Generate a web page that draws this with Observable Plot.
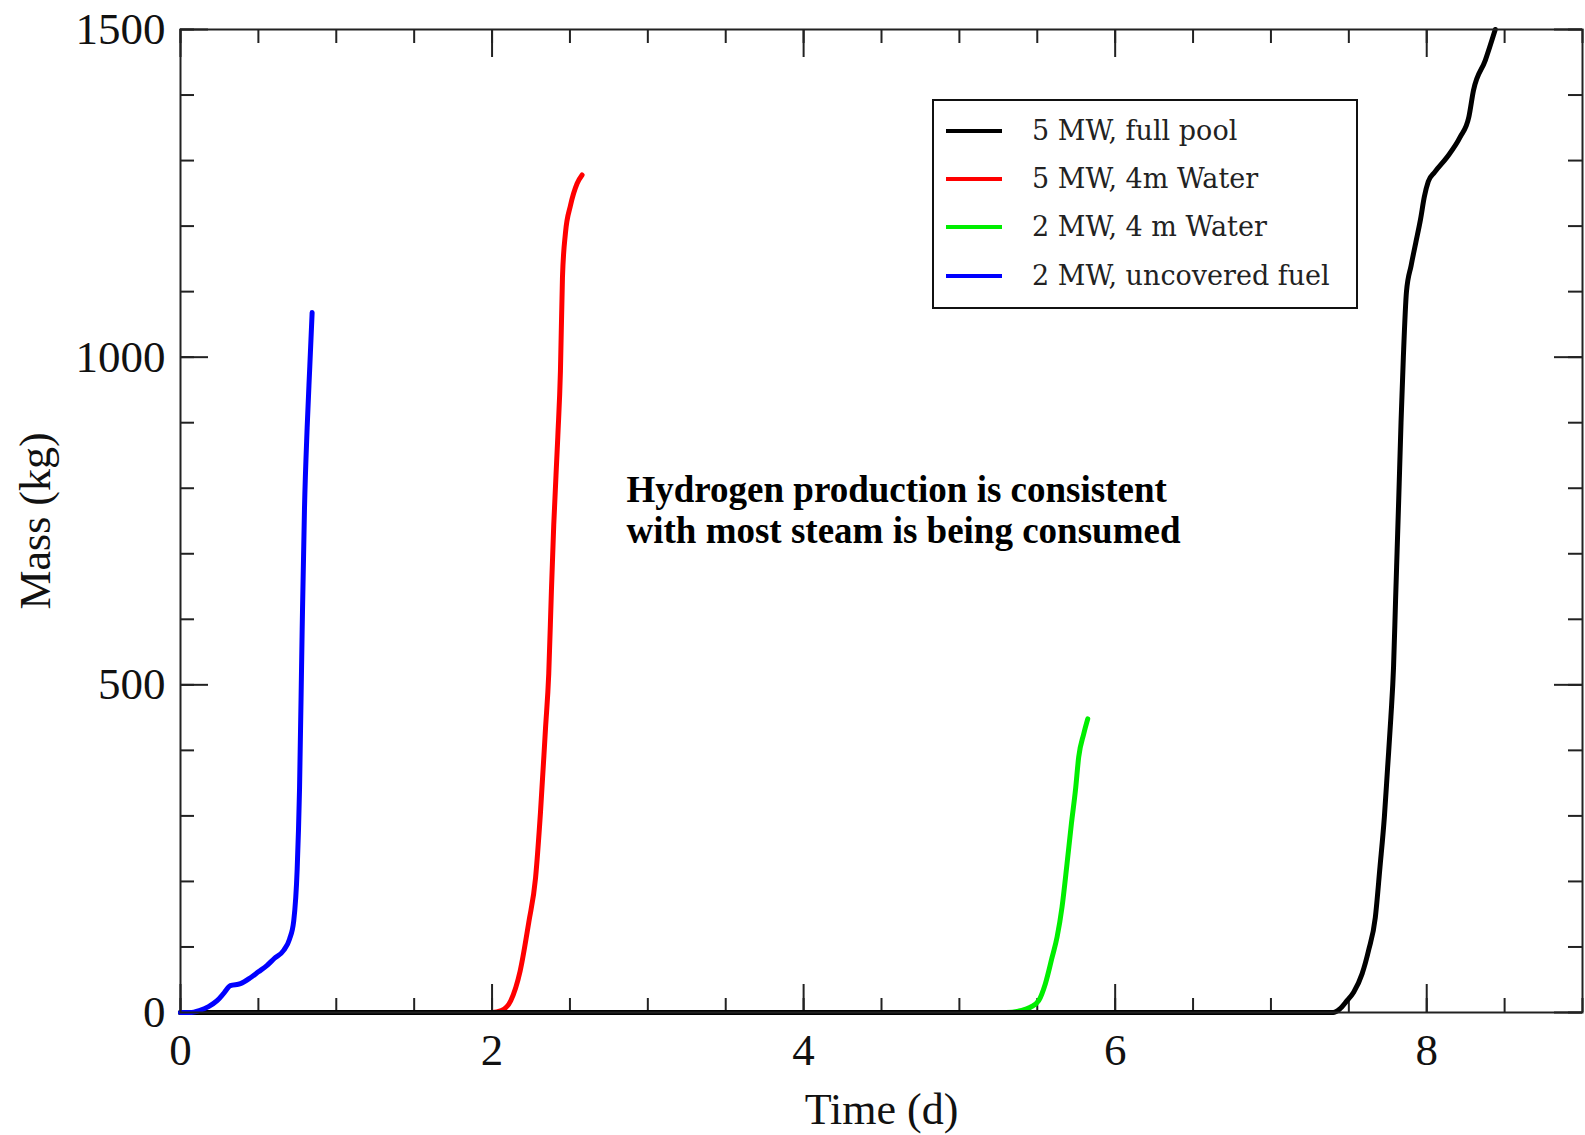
<!DOCTYPE html>
<html>
<head>
<meta charset="utf-8">
<script src="https://cdn.jsdelivr.net/npm/d3@7"></script>
<script src="https://cdn.jsdelivr.net/npm/@observablehq/plot@0.6"></script>
<style>
  html, body { margin: 0; padding: 0; background: #fff; }
  #wrap { position: relative; width: 1585px; height: 1135px; }
  #legend {
    position: absolute; left: 932px; top: 99px; width: 422px; height: 206px;
    border: 2px solid #111; background: #fff;
    font-family: "DejaVu Serif", serif; font-size: 27px; color: #222;
  }
  #legend .row { position: absolute; left: 0; height: 40px; width: 100%; }
  #legend .sw { position: absolute; left: 12px; top: 18px; width: 56px; height: 4px; }
  #legend .lab { position: absolute; left: 98px; top: 2px; white-space: nowrap; line-height: 36px; }
</style>
</head>
<body>
<div id="wrap"></div>
<script>
// Series: time (days) and hydrogen mass (kg)
const seriesNames = ["5 MW, full pool", "5 MW, 4m Water", "2 MW, 4 m Water", "2 MW, uncovered fuel"];
const seriesColors = ["#000000", "#ff0000", "#00ee00", "#0000ff"];

const timeFullPool = [0, 7.40, 7.44, 7.488, 7.531, 7.585, 7.627, 7.67, 7.70, 7.728, 7.749, 7.77, 7.787, 7.80, 7.81, 7.82, 7.835, 7.85, 7.87, 7.90, 7.93, 7.96, 7.985, 8.01, 8.05, 8.13, 8.215, 8.27, 8.30, 8.376, 8.44];
const massFullPool = [0, 0, 5, 18, 31, 59, 95, 145, 222, 298, 374, 451, 527, 629, 705, 781, 900, 1000, 1100, 1140, 1175, 1210, 1245, 1268, 1282, 1305, 1336, 1366, 1407, 1453, 1500];

const time5MW4m = [0, 2.0, 2.06, 2.12, 2.18, 2.236, 2.279, 2.311, 2.343, 2.364, 2.381, 2.396, 2.422, 2.439, 2.452, 2.471, 2.503, 2.546, 2.578];
const mass5MW4m = [0, 0, 3, 18, 63, 138, 205, 306, 433, 517, 643, 744, 878, 979, 1122, 1189, 1231, 1265, 1278];

const time2MW4m = [0, 5.30, 5.40, 5.456, 5.509, 5.552, 5.595, 5.627, 5.659, 5.691, 5.719, 5.745, 5.766, 5.798, 5.824];
const mass2MW4m = [0, 0, 3, 8, 18, 44, 84, 115, 161, 227, 288, 339, 390, 425, 448];

const time2MWUncovered = [0, 0.06, 0.12, 0.18, 0.235, 0.28, 0.32, 0.385, 0.449, 0.5, 0.556, 0.6, 0.663, 0.70, 0.727, 0.749, 0.764, 0.781, 0.796, 0.813, 0.83, 0.845];
const mass2MWUncovered = [0, 0, 3, 9, 18, 30, 41, 44, 53, 62, 72, 82, 95, 112, 140, 219, 340, 584, 770, 892, 986, 1068];

// Axis ticks
const xMajorTicks = [0, 2, 4, 6, 8];
const xMinorTicks = d3.range(0, 9.01, 0.5);
const yMajorTicks = [0, 500, 1000, 1500];
const yMinorTicks = d3.range(0, 1501, 100);

const annotation = "Hydrogen production is consistent\nwith most steam is being consumed";

const toRows = (name, ts, ms) => ts.map((t, i) => ({name, t, m: ms[i]}));
const curves = [
  toRows(seriesNames[1], time5MW4m, mass5MW4m),
  toRows(seriesNames[2], time2MW4m, mass2MW4m),
  toRows(seriesNames[0], timeFullPool, massFullPool),
  toRows(seriesNames[3], time2MWUncovered, mass2MWUncovered)
];
const colorOf = Object.fromEntries(seriesNames.map((n, i) => [n, seriesColors[i]]));

const W = 1585, H = 1135, mL = 180, mR = 3, mT = 29, mB = 123;
const innerW = W - mL - mR, innerH = H - mT - mB;
const minorLen = 14, majorLen = 28;
const tickStyle = {stroke: "#222", strokeWidth: 2};

const chart = Plot.plot({
  width: W, height: H,
  marginLeft: mL, marginRight: mR, marginTop: mT, marginBottom: mB,
  x: {domain: [0, 9]},
  y: {domain: [0, 1500]},
  style: {fontFamily: "'Liberation Serif', 'Times New Roman', serif", background: "#fff", color: "#111"},
  marks: [
    Plot.axisX(xMajorTicks, {tickSize: 0, tickPadding: 21, fontSize: 45, label: null, tickFormat: d => String(d)}),
    Plot.axisY(yMajorTicks, {tickSize: 0, tickPadding: 15, fontSize: 45, label: null, tickFormat: d => String(d)}),
    // inward ticks on all four sides
    Plot.tickX(xMinorTicks, {x: d => d, insetTop: innerH - minorLen, ...tickStyle}),
    Plot.tickX(xMinorTicks, {x: d => d, insetBottom: innerH - minorLen, ...tickStyle}),
    Plot.tickX(xMajorTicks, {x: d => d, insetTop: innerH - majorLen, ...tickStyle}),
    Plot.tickX(xMajorTicks, {x: d => d, insetBottom: innerH - majorLen, ...tickStyle}),
    Plot.tickY(yMinorTicks, {y: d => d, insetRight: innerW - minorLen, ...tickStyle}),
    Plot.tickY(yMinorTicks, {y: d => d, insetLeft: innerW - minorLen, ...tickStyle}),
    Plot.tickY(yMajorTicks, {y: d => d, insetRight: innerW - majorLen, ...tickStyle}),
    Plot.tickY(yMajorTicks, {y: d => d, insetLeft: innerW - majorLen, ...tickStyle}),
    ...curves.map(rows => Plot.line(rows, {
      x: "t", y: "m", stroke: colorOf[rows[0].name], strokeWidth: 5,
      curve: "monotone-x", strokeLinejoin: "round", strokeLinecap: "round"
    })),
    Plot.frame({stroke: "#222", strokeWidth: 2}),
    Plot.text([annotation], {
      x: 2.863, y: 823, text: d => d, textAnchor: "start", lineAnchor: "top",
      fontSize: 37, fontWeight: "bold", lineHeight: 1.11, fill: "#000"
    }),
    Plot.text(["Time (d)"], {frameAnchor: "bottom", dy: 97, text: d => d, fontSize: 44, textAnchor: "middle", lineAnchor: "middle", fill: "#111"}),
    Plot.text(["Mass (kg)"], {frameAnchor: "left", dx: -145, text: d => d, fontSize: 44, rotate: -90, textAnchor: "middle", lineAnchor: "middle", fill: "#111"})
  ]
});

const wrap = document.getElementById("wrap");
wrap.appendChild(chart);

// Legend box inside the plot area
const legend = document.createElement("div");
legend.id = "legend";
const rowTops = [10, 58, 106, 155];
seriesNames.forEach((name, i) => {
  const row = document.createElement("div");
  row.className = "row";
  row.style.top = rowTops[i] + "px";
  const sw = document.createElement("div");
  sw.className = "sw";
  sw.style.background = seriesColors[i];
  const lab = document.createElement("div");
  lab.className = "lab";
  lab.textContent = name;
  row.appendChild(sw);
  row.appendChild(lab);
  legend.appendChild(row);
});
wrap.appendChild(legend);
</script>
</body>
</html>
